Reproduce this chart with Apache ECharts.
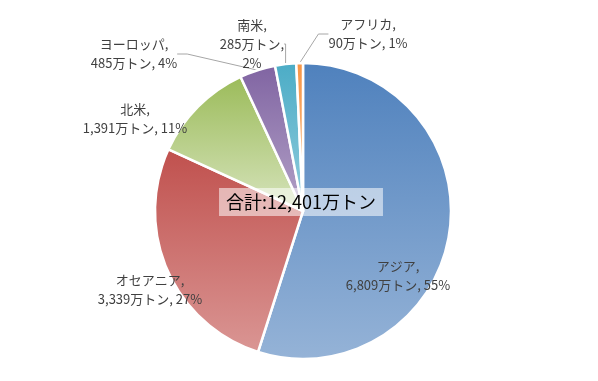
<!DOCTYPE html>
<html><head><meta charset="utf-8">
<script src="https://cdn.jsdelivr.net/npm/echarts@6/dist/echarts.min.js"></script>
<style>html,body{margin:0;padding:0;background:#fff}#c{width:598px;height:381px}</style>
</head><body><div id="c"></div>
<script>
var regions = ['アジア','オセアニア','北米','ヨーロッパ','南米','アフリカ'];
var values = [6809, 3339, 1391, 485, 285, 90];
var totalText = '合計:12,401万トン';
var darkColors = ['#4F81BD','#C0504D','#9BBB59','#8064A2','#4BACC6','#F79646'];
var lightColors = ['#95B3D7','#DA9694','#D7E4BD','#B3A2C7','#93CDDD','#FAC090'];
var labelPos = [[398,276],[150,290],[135,119],[134,54],[252,44],[368,34]];
var showLine = [false,false,false,true,true,true];

var chart = echarts.init(document.getElementById('c'));
var total = values.reduce(function(a,b){return a+b;},0);
function fmt(n){return n.toString().replace(/\B(?=(\d{3})+(?!\d))/g, ',');}
var data = regions.map(function(r,i){
  return {
    name: r, value: values[i],
    itemStyle: {color: {type:'linear',x:0,y:0,x2:0,y2:1,colorStops:[{offset:0,color:darkColors[i]},{offset:1,color:lightColors[i]}]}},
    labelLine: {show: showLine[i]}
  };
});
chart.setOption({
  animation:false,
  series:[{
    type:'pie',
    center:[303,211],
    radius:148,
    startAngle:90,
    clockwise:true,
    avoidLabelOverlap:false,
    itemStyle:{borderColor:'#fff',borderWidth:2.5},
    label:{
      show:true,
      color:'#404040',
      fontFamily:'"Noto Sans CJK JP", sans-serif',
      fontSize:13,
      lineHeight:19,
      align:'center',
      formatter:function(p){
        var pct = Math.round(p.value/total*100) + '%';
        if (p.name === '南米') return p.name + ',\n' + fmt(p.value) + '万トン,\n' + pct;
        return p.name + ',\n' + fmt(p.value) + '万トン, ' + pct;
      }
    },
    labelLine:{lineStyle:{color:'#A6A6A6',width:1},length:10,length2:10},
    labelLayout:function(p){
      var pos = labelPos[p.dataIndex];
      return {x:pos[0], y:pos[1], align:'center', verticalAlign:'middle'};
    },
    data:data
  }],
  graphic:[{
    type:'text',
    z:100,
    x:301,
    y:202,
    style:{
      text: totalText,
      fill:'#000',
      fontSize:18,
      fontFamily:'"Noto Sans CJK JP", sans-serif',
      align:'center',
      verticalAlign:'middle',
      backgroundColor:'rgba(255,255,255,0.55)',
      padding:[5,7,5,7]
    }
  }]
});
</script></body></html>
